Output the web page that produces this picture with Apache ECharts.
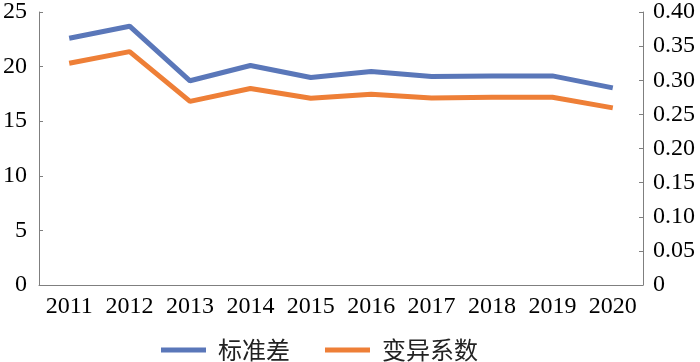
<!DOCTYPE html>
<html>
<head>
<meta charset="utf-8">
<script src="https://cdn.jsdelivr.net/npm/echarts@6/dist/echarts.min.js"></script>
<style>html,body{margin:0;padding:0;background:#fff}#c{width:700px;height:362px}</style>
</head>
<body>
<div id="c"></div>
<script>
var categories = ['2011','2012','2013','2014','2015','2016','2017','2018','2019','2020'];
var stdDev = [22.6, 23.7, 18.7, 20.1, 19.0, 19.55, 19.1, 19.15, 19.15, 18.05];
var cv = [0.325, 0.342, 0.269, 0.288, 0.2735, 0.2795, 0.274, 0.275, 0.275, 0.2595];
var leftTicks = {min: 0, max: 25, interval: 5};
var rightTicks = {min: 0, max: 0.40, interval: 0.05};
var seriesNames = ['标准差', '变异系数'];

var serif = '"Liberation Serif","DejaVu Serif",serif';
var axisLineStyle = {color: '#7f7f7f', width: 1};
var chart = echarts.init(document.getElementById('c'));
chart.setOption({
  animation: false,
  grid: {left: 37, right: 57, top: 6, bottom: 77, containLabel: false},
  legend: {
    data: seriesNames,
    top: 333,
    left: 156,
    icon: 'rect',
    itemWidth: 45,
    itemHeight: 5,
    itemGap: 35,
    textStyle: {fontFamily: '"Noto Sans CJK SC"', fontSize: 24, color: '#222', padding: [0, 0, 0, 7]}
  },
  xAxis: {
    type: 'category',
    data: categories,
    boundaryGap: true,
    axisLine: {lineStyle: axisLineStyle},
    axisTick: {inside: true, length: 4, interval: 0, lineStyle: axisLineStyle},
    axisLabel: {color: '#000', fontFamily: serif, fontSize: 24, margin: 10, interval: 0, hideOverlap: false}
  },
  yAxis: [
    {
      type: 'value', min: leftTicks.min, max: leftTicks.max, interval: leftTicks.interval,
      splitLine: {show: false},
      axisLine: {show: true, lineStyle: axisLineStyle},
      axisTick: {show: true, inside: true, length: 4, lineStyle: axisLineStyle},
      axisLabel: {color: '#000', fontFamily: serif, fontSize: 24, margin: 12}
    },
    {
      type: 'value', min: rightTicks.min, max: rightTicks.max, interval: rightTicks.interval,
      position: 'right',
      splitLine: {show: false},
      axisLine: {show: true, lineStyle: axisLineStyle},
      axisTick: {show: true, inside: true, length: 4, lineStyle: axisLineStyle},
      axisLabel: {
        color: '#000', fontFamily: serif, fontSize: 24, margin: 10,
        formatter: function (v) { return v === 0 ? '0' : v.toFixed(2); }
      }
    }
  ],
  series: [
    {
      name: seriesNames[0], type: 'line', yAxisIndex: 0, data: stdDev,
      showSymbol: false, symbol: 'none',
      lineStyle: {color: '#5a77b9', width: 5},
      itemStyle: {color: '#5a77b9'}
    },
    {
      name: seriesNames[1], type: 'line', yAxisIndex: 1, data: cv,
      showSymbol: false, symbol: 'none',
      lineStyle: {color: '#ee7f37', width: 5},
      itemStyle: {color: '#ee7f37'}
    }
  ]
});
</script>
</body>
</html>
